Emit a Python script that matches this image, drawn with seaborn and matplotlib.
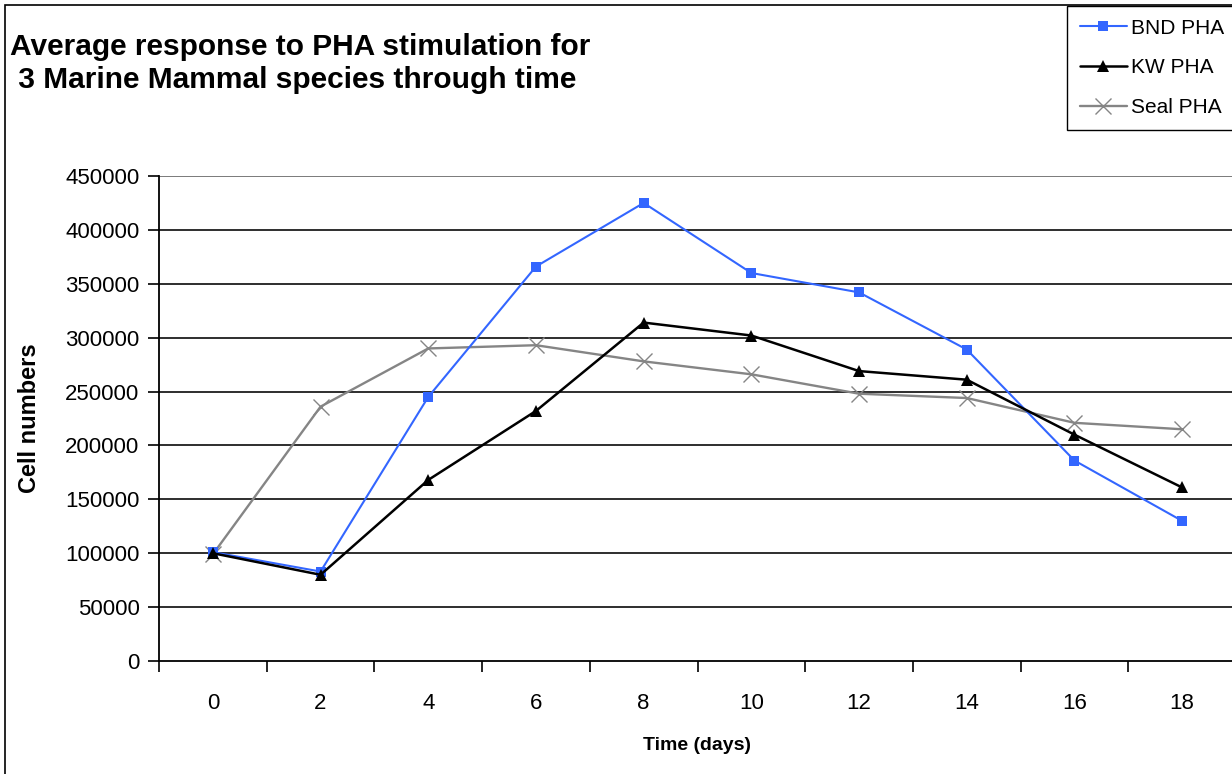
import matplotlib
matplotlib.use("Agg")
import matplotlib.pyplot as plt
from matplotlib.patches import Rectangle
import seaborn as sns
import pandas as pd

# Time points (days) and mean cell counts per species
days = [0, 2, 4, 6, 8, 10, 12, 14, 16, 18]
bnd_pha = [101000, 83000, 245000, 366000, 425000, 360000, 342000, 289000, 186000, 130000]
kw_pha = [100000, 80000, 168000, 232000, 314000, 302000, 269000, 261000, 210000, 161000]
seal_pha = [99000, 236000, 290000, 293000, 278000, 266000, 248000, 244000, 221000, 215000]

series_names = ["BND PHA", "KW PHA", "Seal PHA"]
y_ticks = [0, 50000, 100000, 150000, 200000, 250000, 300000, 350000, 400000, 450000]
y_tick_labels = [str(v) for v in y_ticks]
x_tick_labels = [str(d) for d in days]

sns.set_theme(style="white")
plt.rcParams["font.family"] = ["Liberation Sans", "DejaVu Sans"]
plt.rcParams["text.color"] = "black"
plt.rcParams["xtick.color"] = "black"
plt.rcParams["ytick.color"] = "black"
plt.rcParams["xtick.labelcolor"] = "black"
plt.rcParams["ytick.labelcolor"] = "black"

df = pd.DataFrame({
    "day": days * 3,
    "cells": bnd_pha + kw_pha + seal_pha,
    "series": [series_names[0]] * len(days) + [series_names[1]] * len(days)
              + [series_names[2]] * len(days),
})

W, H = 1232, 774
fig = plt.figure(figsize=(W / 100, H / 100), dpi=100)
fig.patch.set_facecolor("white")

left_px, right_px, top_px, bottom_px = 159, 1236, 176, 661
ax = fig.add_axes([left_px / W, 1 - bottom_px / H,
                   (right_px - left_px) / W, (bottom_px - top_px) / H])

styles = {
    "Seal PHA": dict(color="#858585", marker="x", markersize=12, markeredgewidth=1.0,
                     linewidth=1.7, zorder=3),
    "BND PHA": dict(color="#3366FF", marker="s", markersize=7.5, markeredgewidth=0,
                    linewidth=1.5, zorder=4),
    "KW PHA": dict(color="black", marker="^", markersize=8.5, markeredgewidth=0,
                   linewidth=1.8, zorder=5),
}

handles = {}
for name in ["Seal PHA", "BND PHA", "KW PHA"]:
    st = styles[name]
    sub = df[df["series"] == name]
    sns.lineplot(data=sub, x="day", y="cells", ax=ax, color=st["color"],
                 marker=st["marker"], markersize=st["markersize"],
                 markeredgewidth=st["markeredgewidth"], markeredgecolor=st["color"],
                 linewidth=st["linewidth"], zorder=st["zorder"], legend=False,
                 errorbar=None)
    handles[name] = ax.lines[-1]

ax.set_xlim(-1, 19)
ax.set_ylim(0, 450000)

ax.set_yticks(y_ticks)
ax.set_yticklabels(y_tick_labels, fontsize=16)
ax.set_xticks(days)
ax.set_xticklabels(x_tick_labels, fontsize=16)
ax.set_xticks([d + 1 for d in [-2] + days], minor=True)
ax.tick_params(axis="x", which="major", length=0, pad=23)
ax.tick_params(axis="x", which="minor", length=8, width=1.2, direction="out",
               color="black", bottom=True)
ax.tick_params(axis="y", which="major", length=8, width=1.2, direction="out",
               color="black", left=True, pad=6)

ax.grid(False)
for v in y_ticks[1:]:
    ax.axhline(v, color="#1e1e1e" if v < 450000 else "#707070", linewidth=1.3, zorder=1)

for side in ["top", "right"]:
    ax.spines[side].set_visible(False)
for side in ["left", "bottom"]:
    ax.spines[side].set_color("black")
    ax.spines[side].set_linewidth(1.3)

ax.set_xlabel("")
ax.set_ylabel("")
fig.text(697 / W, 1 - 745 / H, "Time (days)", ha="center", va="center",
         fontsize=14, fontweight="bold")
fig.text(30 / W, 1 - 418 / H, "Cell numbers", ha="center", va="center",
         rotation=90, fontsize=17, fontweight="bold")

fig.text(10 / W, 1 - 47 / H, "Average response to PHA stimulation for",
         ha="left", va="center", fontsize=21.5, fontweight="bold")
fig.text(10 / W, 1 - 80 / H, " 3 Marine Mammal species through time",
         ha="left", va="center", fontsize=21.5, fontweight="bold")

# outer chart border
fig.add_artist(Rectangle((5 / W, -0.2), 2, 1.2 - 5 / H, transform=fig.transFigure,
                         fill=False, edgecolor="black", linewidth=1.2))

leg = fig.legend([handles[n] for n in series_names], series_names,
                 loc="upper left", bbox_to_anchor=(1067 / W, 1 - 6 / H),
                 fontsize=15, frameon=True, fancybox=False, framealpha=1,
                 edgecolor="black", handlelength=2.3, handletextpad=0.15,
                 labelspacing=1.0, borderpad=0.6, borderaxespad=0,
                 markerscale=1.0)
leg.get_frame().set_linewidth(1.0)

fig.savefig("out.png", dpi=100)
